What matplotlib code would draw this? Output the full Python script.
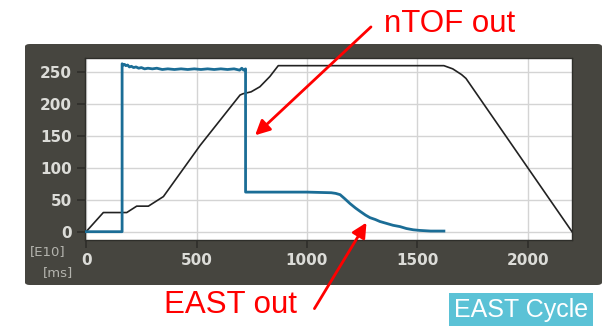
import matplotlib.pyplot as plt
from matplotlib.patches import FancyBboxPatch

# beam intensity (blue) and magnetic cycle (black), time in ms, intensity in E10
blue_t = [0, 163, 163, 168, 174, 180, 188, 196, 205, 215, 226, 238, 250, 265, 280, 300, 320, 345,
          370, 400, 430, 460, 490, 520, 550, 580, 610, 640, 670, 695, 705, 713, 722, 722,
          1000, 1110, 1130, 1150, 1170, 1195, 1220, 1240, 1265, 1285, 1310, 1330, 1360, 1390,
          1421, 1450, 1481, 1511, 1560, 1620]
blue_v = [0, 0, 263, 261, 262, 260, 261, 258, 259, 257, 258, 256, 257, 255, 256, 255, 256, 254,
          255, 254, 255, 254, 255, 254, 255, 254, 255, 254, 255, 253, 256, 253, 255, 62,
          62, 61, 60, 58, 52, 44, 37, 32, 26, 22, 19, 16, 13, 10,
          8, 5, 3, 2, 1, 1]

black_t = [0, 78, 184, 229, 282, 350, 516, 697, 710, 747, 787, 832, 870, 1620, 1660, 1700, 1720, 2000, 2200]
black_v = [0, 30, 30, 40, 40, 55, 135, 214, 216, 219, 227, 243, 260, 260, 255, 246, 240, 100, 0]

x_ticks = [0, 500, 1000, 1500, 2000]
y_ticks = [0, 50, 100, 150, 200, 250]

W, H = 608, 326
fig = plt.figure(figsize=(W / 100, H / 100), dpi=100)
fig.patch.set_facecolor('white')

# dark instrument panel
panel = FancyBboxPatch((25 / W, (H - 285) / H), 577 / W, 241 / H,
                       boxstyle='round,pad=0,rounding_size=0.008',
                       transform=fig.transFigure, facecolor='#46453f',
                       edgecolor='none', zorder=-1)
fig.patches.append(panel)

ax = fig.add_axes([85 / W, (H - 240) / H, 487 / W, 182 / H])
ax.set_zorder(2)
ax.set_facecolor('white')
ax.plot(black_t, black_v, color='#222222', lw=1.2, zorder=3)
ax.plot(blue_t, blue_v, color='#1b6d96', lw=2.0, zorder=4)

ax.set_xlim(-5, 2200)
ax.set_ylim(-13, 272)
ax.set_xticks(x_ticks)
ax.set_yticks(y_ticks)
ax.grid(True, color='#d4d4d4', lw=1)
ax.set_axisbelow(True)
for s in ax.spines.values():
    s.set_color('#2e2e2a')
    s.set_linewidth(1)
ax.tick_params(colors='#2e2e2a', length=6, width=1.2, labelcolor='#dcdcd8',
               labelsize=11)
for lbl in ax.get_xticklabels() + ax.get_yticklabels():
    lbl.set_fontweight('bold')

fig.text(48 / W, 1 - 252 / H, '[E10]', color='#b4b4ae', fontsize=9.5, ha='center', va='center')
fig.text(58 / W, 1 - 273 / H, '[ms]', color='#b4b4ae', fontsize=9.5, ha='center', va='center')

red = '#ff0000'
ax.annotate('', xy=(756, 148), xycoords='data', xytext=(373, H - 25), textcoords='figure pixels',
            arrowprops=dict(arrowstyle='-|>', color=red, lw=2, mutation_scale=22))
ax.annotate('', xy=(1276, 18), xycoords='data', xytext=(313, H - 311), textcoords='figure pixels',
            arrowprops=dict(arrowstyle='-|>', color=red, lw=2, mutation_scale=22))

fig.text(450 / W, 1 - 24 / H, 'nTOF out', color=red, fontsize=22.5,
         family='Liberation Sans', ha='center', va='center')
fig.text(230 / W, 1 - 305 / H, 'EAST out', color=red, fontsize=22.5,
         family='Liberation Sans', ha='center', va='center')

fig.text(521 / W, 1 - 310 / H, 'EAST Cycle', color='white', fontsize=18,
         family='Liberation Sans', ha='center', va='center',
         bbox=dict(boxstyle='square,pad=0.2', facecolor='#5bc2d6', edgecolor='none'))

fig.savefig('out.png', dpi=100)
